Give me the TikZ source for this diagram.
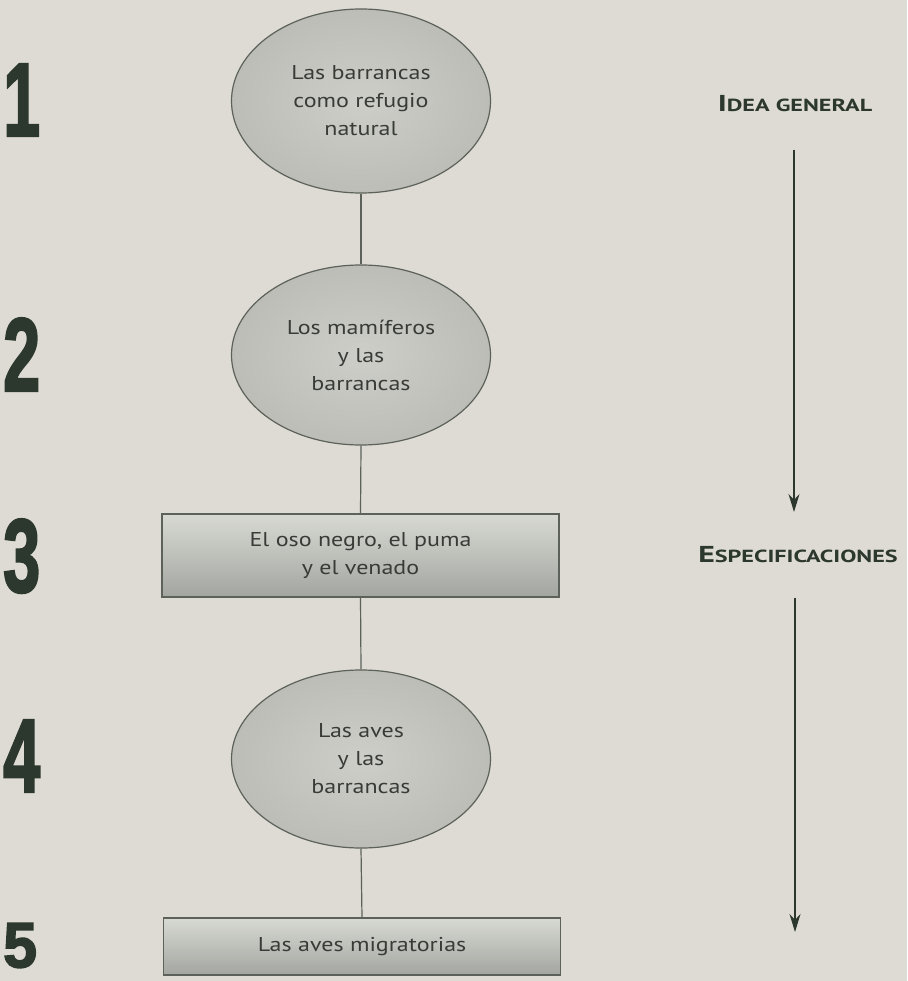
\documentclass[tikz,border=0pt]{standalone}
\usepackage{fontspec}
\setmainfont{PT Sans}[FakeStretch=1.2]
\newfontfamily\hdrfont{PT Sans}[FakeStretch=1.38]
\newfontfamily\numfont{Liberation Sans}[BoldFeatures={FakeBold=2.5}]
\usetikzlibrary{arrows.meta,shapes.geometric}
\definecolor{bg}{HTML}{DDDBD3}
\definecolor{ink}{HTML}{2C372D}
\definecolor{edge}{HTML}{5C625A}
\definecolor{efillin}{HTML}{CDCEC8}
\definecolor{efillout}{HTML}{BCBDB6}
\definecolor{txt}{HTML}{383B36}
\definecolor{rtop}{HTML}{D8D9D3}
\definecolor{rmid}{HTML}{C4C6C0}
\definecolor{rbot}{HTML}{A3A6A0}
\newcommand{\bignum}[1]{\scalebox{0.64}[1]{\fontsize{104}{104}\numfont\bfseries #1}}
\begin{document}
\begin{tikzpicture}[x=1pt,y=-1pt,
  oval/.style={ellipse, draw=edge, line width=1.2pt, inner color=efillin, outer color=efillout,
    minimum width=259pt, minimum height=184pt, inner sep=0pt, align=center,
    font=\fontsize{20}{28}\selectfont, text=txt},
  box/.style={rectangle, draw=edge, line width=1.4pt, top color=rtop, middle color=rmid, bottom color=rbot,
    minimum width=397pt, inner sep=0pt, align=center,
    font=\fontsize{20}{28}\selectfont, text=txt},
  link/.style={draw=edge, line width=1.2pt},
  flow/.style={draw=ink, line width=1.3pt, -{Stealth[length=18pt,width=11pt]}},
  num/.style={anchor=north west, inner sep=0pt, text=ink},
  hdr/.style={inner sep=0pt, text=ink, font=\hdrfont\bfseries}
]
\clip (0,0) rectangle (907,981);
\fill[bg] (0,0) rectangle (907,981);
\useasboundingbox (0,0) rectangle (907,981);

% nodes of the chain
\node[oval] (e1) at (361,101) {Las barrancas\\como refugio\\natural};
\node[oval, minimum height=180pt] (e2) at (361,355) {Los mamíferos\\y las\\barrancas};
\node[box, minimum height=83pt] (r3) at (360.5,555.5) {El oso negro, el puma\\y el venado};
\node[oval, minimum height=178pt] (e4) at (361,759) {Las aves\\y las\\barrancas};
\node[box, minimum height=57pt] (r5) at (362,946.5) {Las aves migratorias};

\draw[link] (e1.south) -- (e2.north);
\draw[link] (e2.south) -- (r3.north);
\draw[link] (r3.south) -- (e4.north);
\draw[link] (e4.south) -- (r5.north);

% numbers
\node[num] (n1) at (3,64) {\bignum{1}};
\node[num] (n2) at (3,318) {\bignum{2}};
\node[num] (n3) at (3,519) {\bignum{3}};
\node[num] (n4) at (3,720) {\bignum{4}};
\node[num] (n5) at (3,923) {\scalebox{0.95}[1]{\fontsize{64}{64}\numfont\bfseries 5}};

% right column
\node[hdr] (h1) at (795,104) {{\fontsize{23}{23}\selectfont I}{\fontsize{17.5}{18}\selectfont DEA GENERAL}};
\node[hdr] (h2) at (798,555) {{\fontsize{23}{23}\selectfont E}{\fontsize{17.5}{18}\selectfont SPECIFICACIONES}};
\coordinate (a1s) at (794,150);
\coordinate (a1e) at (794,512);
\coordinate (a2s) at (795,598);
\coordinate (a2e) at (795,932);
\draw[flow] (a1s) -- (a1e);
\draw[flow] (a2s) -- (a2e);
\end{tikzpicture}
\end{document}
